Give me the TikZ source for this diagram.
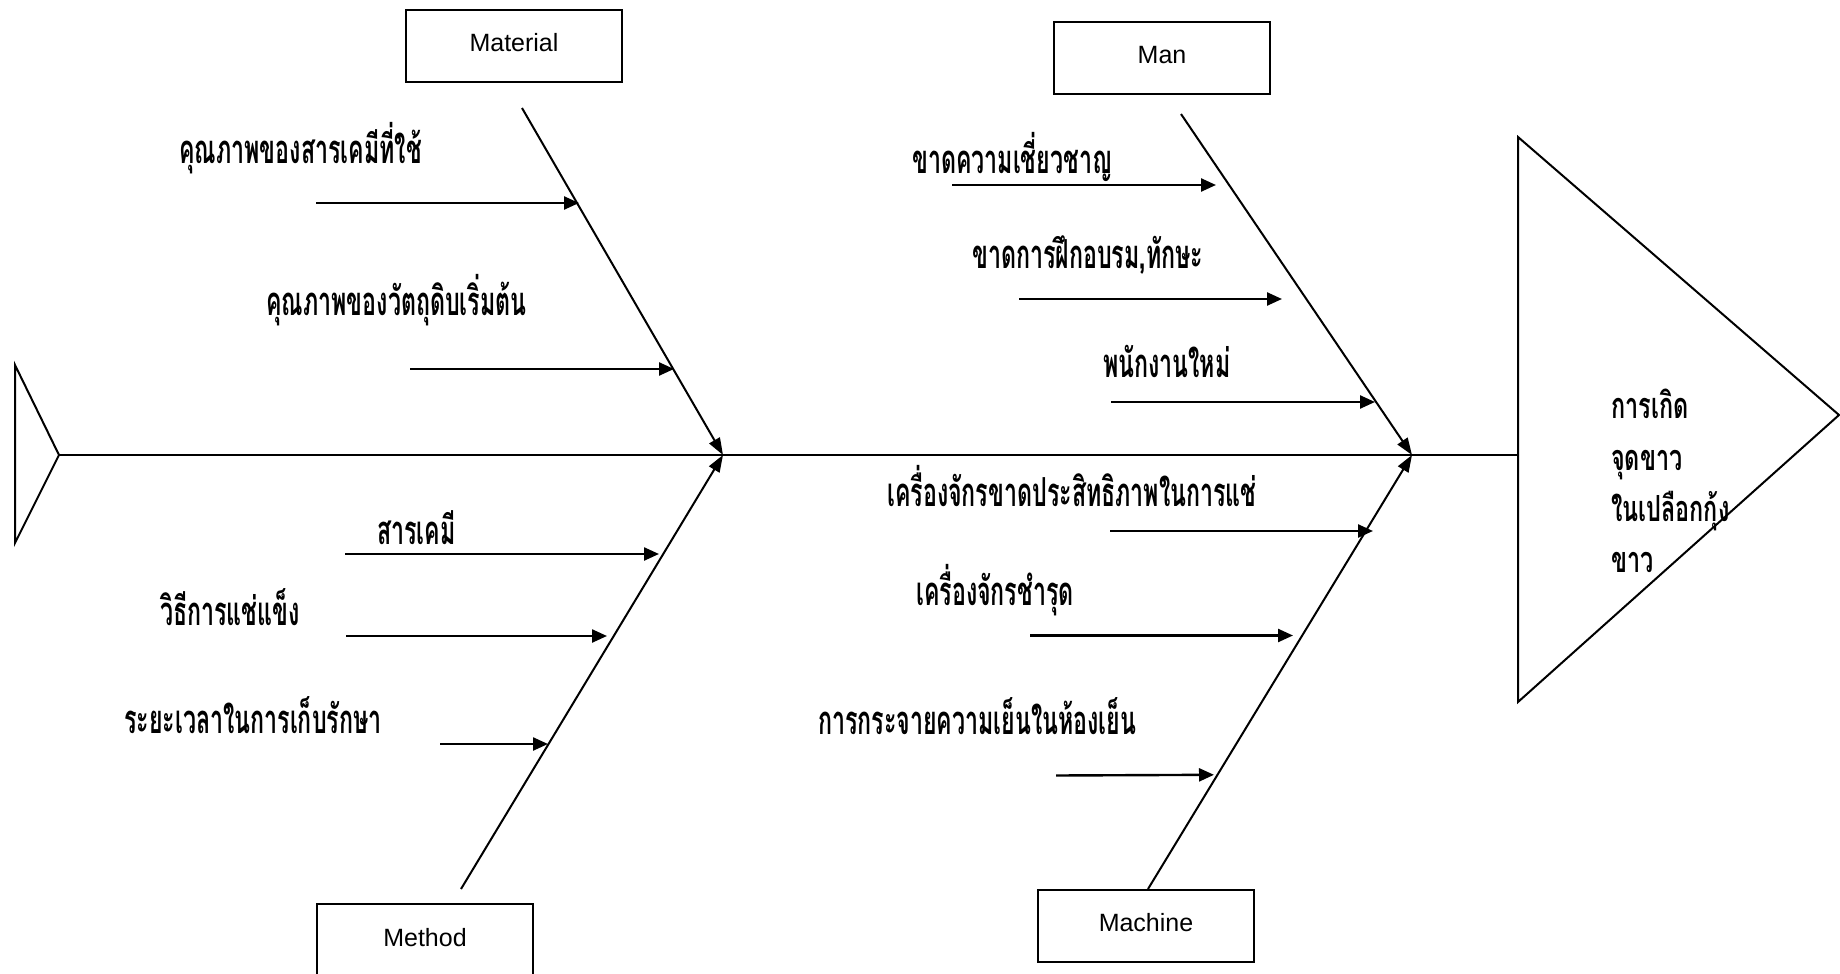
\documentclass[tikz,border=0pt]{standalone}
\usepackage{fontspec}
\setmainfont{Liberation Sans}
\newfontfamily\thaifont[Script=Thai,FakeStretch=0.58]{Loma}
\newfontfamily\thaieff[Script=Thai,FakeStretch=0.65]{Loma}
\usetikzlibrary{arrows.meta}
\tikzset{
  box/.style={draw,line width=2pt,minimum width=216pt,minimum height=72pt,inner sep=0pt},
  boxtxt/.style={inner sep=0pt,font=\fontsize{25}{30}\selectfont},
  bone/.style={line width=2pt,-{Triangle[length=17pt,width=12pt]}},
  cause/.style={line width=2.4pt,-{Triangle[length=15pt,width=13pt]}},
  lbl/.style={anchor=base west,inner sep=0pt,font=\thaifont\bfseries\fontsize{40}{48}\selectfont},
  eff/.style={anchor=base west,inner sep=0pt,font=\thaieff\bfseries\fontsize{36}{44}\selectfont},
  outline/.style={line width=2pt,line join=miter}
}
\begin{document}
\begin{tikzpicture}[x=1pt,y=-1pt]
\useasboundingbox (0,0) rectangle (1840,974);
% spine
\coordinate (tailT) at (15,365);
\coordinate (tailM) at (59,455);
\coordinate (tailB) at (15,543);
\coordinate (headT) at (1518,137);
\coordinate (headM) at (1518,455);
\coordinate (headB) at (1518,702);
\coordinate (headTip) at (1839,415);
\draw[outline] (tailT) -- (tailM) -- (tailB) -- cycle;
\draw[outline] (headT) -- (headTip) -- (headB) -- cycle;
\draw[line width=2pt] (tailM) -- (headM);
% junctions
\coordinate (J1) at (723,455);
\coordinate (J2) at (1412,455);
% category boxes
\node[box] (material) at (514,46) {};
\node[box] (man) at (1162,58) {};
\node[box] (method) at (425,939.5) {};
\node[box] (machine) at (1146,926) {};
\node[boxtxt] (tmaterial) at ([yshift=3pt]material.center) {Material};
\node[boxtxt] (tman) at ([yshift=3pt]man.center) {Man};
\node[boxtxt] (tmethod) at ([yshift=2pt]method.center) {Method};
\node[boxtxt] (tmachine) at ([yshift=3pt]machine.center) {Machine};
% bones
\coordinate (bMat) at (522,108);
\coordinate (bMan) at (1181,114);
\coordinate (bMet) at (461,889);
\coordinate (bMac) at (1148,889);
\draw[bone] (bMat) -- (J1);
\draw[bone] (bMet) -- (J1);
\draw[bone] (bMan) -- (J2);
\draw[bone] (bMac) -- (J2);
% cause arrows: Material
\coordinate (a1s) at (316,203); \coordinate (a1e) at (579,203);
\coordinate (a2s) at (410,369); \coordinate (a2e) at (674,369);
% Man
\coordinate (a3s) at (952,185); \coordinate (a3e) at (1216,185);
\coordinate (a4s) at (1019,299); \coordinate (a4e) at (1282,299);
\coordinate (a5s) at (1111,402); \coordinate (a5e) at (1375,402);
% Method
\coordinate (a6s) at (345,554); \coordinate (a6e) at (659,554);
\coordinate (a7s) at (346,636); \coordinate (a7e) at (607,636);
\coordinate (a8s) at (440,744); \coordinate (a8e) at (548,744);
% Machine
\coordinate (a9s) at (1110,531); \coordinate (a9e) at (1373,531);
\coordinate (a10s) at (1030,635.5); \coordinate (a10e) at (1293,635.5);
\coordinate (a11s) at (1056,775.5); \coordinate (a11e) at (1214,774.8);
\foreach \i in {1,...,11}{\draw[cause] (a\i s) -- (a\i e);}
% labels
\node[lbl] (l1) at (179,163) {คุณภาพของสารเคมีที่ใช้};
\node[lbl] (l2) at (266,315) {คุณภาพของวัตถุดิบเริ่มต้น};
\node[lbl] (l3) at (912,173) {ขาดความเชี่ยวชาญ};
\node[lbl] (l4) at (972,268) {ขาดการฝึกอบรม,ทักษะ};
\node[lbl] (l5) at (1103,377) {พนักงานใหม่};
\node[lbl] (l6) at (377,544) {สารเคมี};
\node[lbl] (l7) at (160,625) {วิธีการแช่แข็ง};
\node[lbl] (l8) at (124,733) {ระยะเวลาในการเก็บรักษา};
\node[lbl] (l9) at (887,506) {เครื่องจักรขาดประสิทธิภาพในการแช่};
\node[lbl] (l10) at (916,605) {เครื่องจักรชำรุด};
\node[lbl] (l11) at (818,734) {การกระจายความเย็นในห้องเย็น};
% effect
\node[eff] (e1) at (1611,418) {การเกิด};
\node[eff] (e2) at (1611,470) {จุดขาว};
\node[eff] (e3) at (1611,521) {ในเปลือกกุ้ง};
\node[eff] (e4) at (1611,572) {ขาว};
\end{tikzpicture}
\end{document}
